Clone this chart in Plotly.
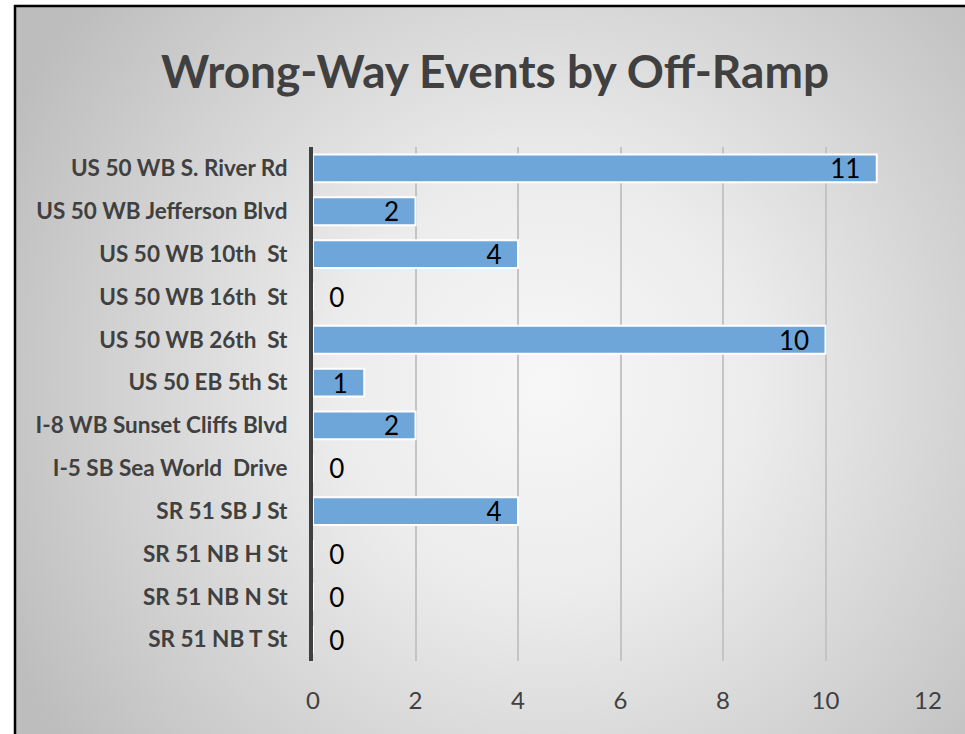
import base64
import plotly.graph_objects as go

# ---- data ----
ramps = [
    "US 50 WB S. River Rd",
    "US 50 WB Jefferson Blvd",
    "US 50 WB 10th  St",
    "US 50 WB 16th  St",
    "US 50 WB 26th  St",
    "US 50 EB 5th St",
    "I-8 WB Sunset Cliffs Blvd",
    "I-5 SB Sea World  Drive",
    "SR 51 SB J St",
    "SR 51 NB H St",
    "SR 51 NB N St",
    "SR 51 NB T St",
]
events = [11, 2, 4, 0, 10, 1, 2, 0, 4, 0, 0, 0]
x_ticks = [0, 2, 4, 6, 8, 10, 12]
title_text = "Wrong-Way Events by Off-Ramp"

# ---- layout geometry ----
W, H = 965, 734
ML, MR, MT, MB = 313, 37, 147, 73
PW, PH = W - ML - MR, H - MT - MB

NB = "\u00a0"
labels = [(f"{v}" + NB * 2) if v > 0 else (NB * 2 + f"{v}") for v in events]
positions = ["inside" if v > 0 else "outside" for v in events]

# background: white page, radial grey gradient inside a black-edged frame
svg = f'''<svg xmlns="http://www.w3.org/2000/svg" width="{W}" height="{H}" viewBox="0 0 {W} {H}">
<defs><radialGradient id="g" gradientUnits="userSpaceOnUse" cx="545" cy="385" r="600">
<stop offset="0" stop-color="#f7f7f7"/><stop offset="0.35" stop-color="#ececec"/><stop offset="1" stop-color="#bdbdbd"/></radialGradient></defs>
<rect x="0" y="0" width="{W}" height="{H}" fill="#ffffff"/>
<rect x="15" y="6" width="{W}" height="{H}" fill="url(#g)"/>
<line x1="15" y1="5" x2="15" y2="{H}" stroke="#000" stroke-width="2.5"/>
<line x1="14" y1="6" x2="{W}" y2="6" stroke="#000" stroke-width="2.5"/>
</svg>'''
src = "data:image/svg+xml;base64," + base64.b64encode(svg.encode()).decode()

fig = go.Figure(
    go.Bar(
        x=events,
        y=ramps,
        orientation="h",
        marker=dict(color="#6FA6D9", line=dict(color="#ffffff", width=2)),
        text=labels,
        textposition=positions,
        insidetextanchor="end",
        textangle=0,
        constraintext="none",
        textfont=dict(family="Lato", size=26, color="#000000"),
        cliponaxis=False,
        hoverinfo="x+y",
    )
)

fig.update_layout(
    width=W,
    height=H,
    margin=dict(l=ML, r=MR, t=MT, b=MB, autoexpand=False),
    paper_bgcolor="#ffffff",
    plot_bgcolor="rgba(0,0,0,0)",
    bargap=0.35,
    showlegend=False,
    title=dict(
        text=f"<b>{title_text}</b>",
        x=495 / W,
        xref="container",
        xanchor="center",
        y=1 - 72 / H,
        yref="container",
        yanchor="middle",
        font=dict(family="Lato", size=46, color="#404040"),
    ),
    images=[
        dict(
            source=src,
            xref="paper",
            yref="paper",
            x=-ML / PW,
            y=(H - MB) / PH,
            sizex=W / PW,
            sizey=H / PH,
            xanchor="left",
            yanchor="top",
            sizing="stretch",
            layer="below",
        )
    ],
)

fig.update_xaxes(
    range=[0, 12],
    tickvals=x_ticks,
    ticktext=[str(t) for t in x_ticks],
    showgrid=True,
    gridcolor="#c4c4c4",
    gridwidth=2,
    zeroline=False,
    showline=False,
    ticks="",
    ticklabelstandoff=23,
    tickfont=dict(family="Lato", size=24, color="#404040"),
)
fig.update_yaxes(
    autorange="reversed",
    showgrid=False,
    showline=True,
    linecolor="#404040",
    linewidth=4,
    ticks="",
    ticklabelstandoff=17,
    tickfont=dict(family="Lato", size=22.5, color="#404040", weight="bold"),
)

fig.write_html(
    "out.html",
    config={"displayModeBar": False},
    post_script="document.body.style.margin='0';",
)
